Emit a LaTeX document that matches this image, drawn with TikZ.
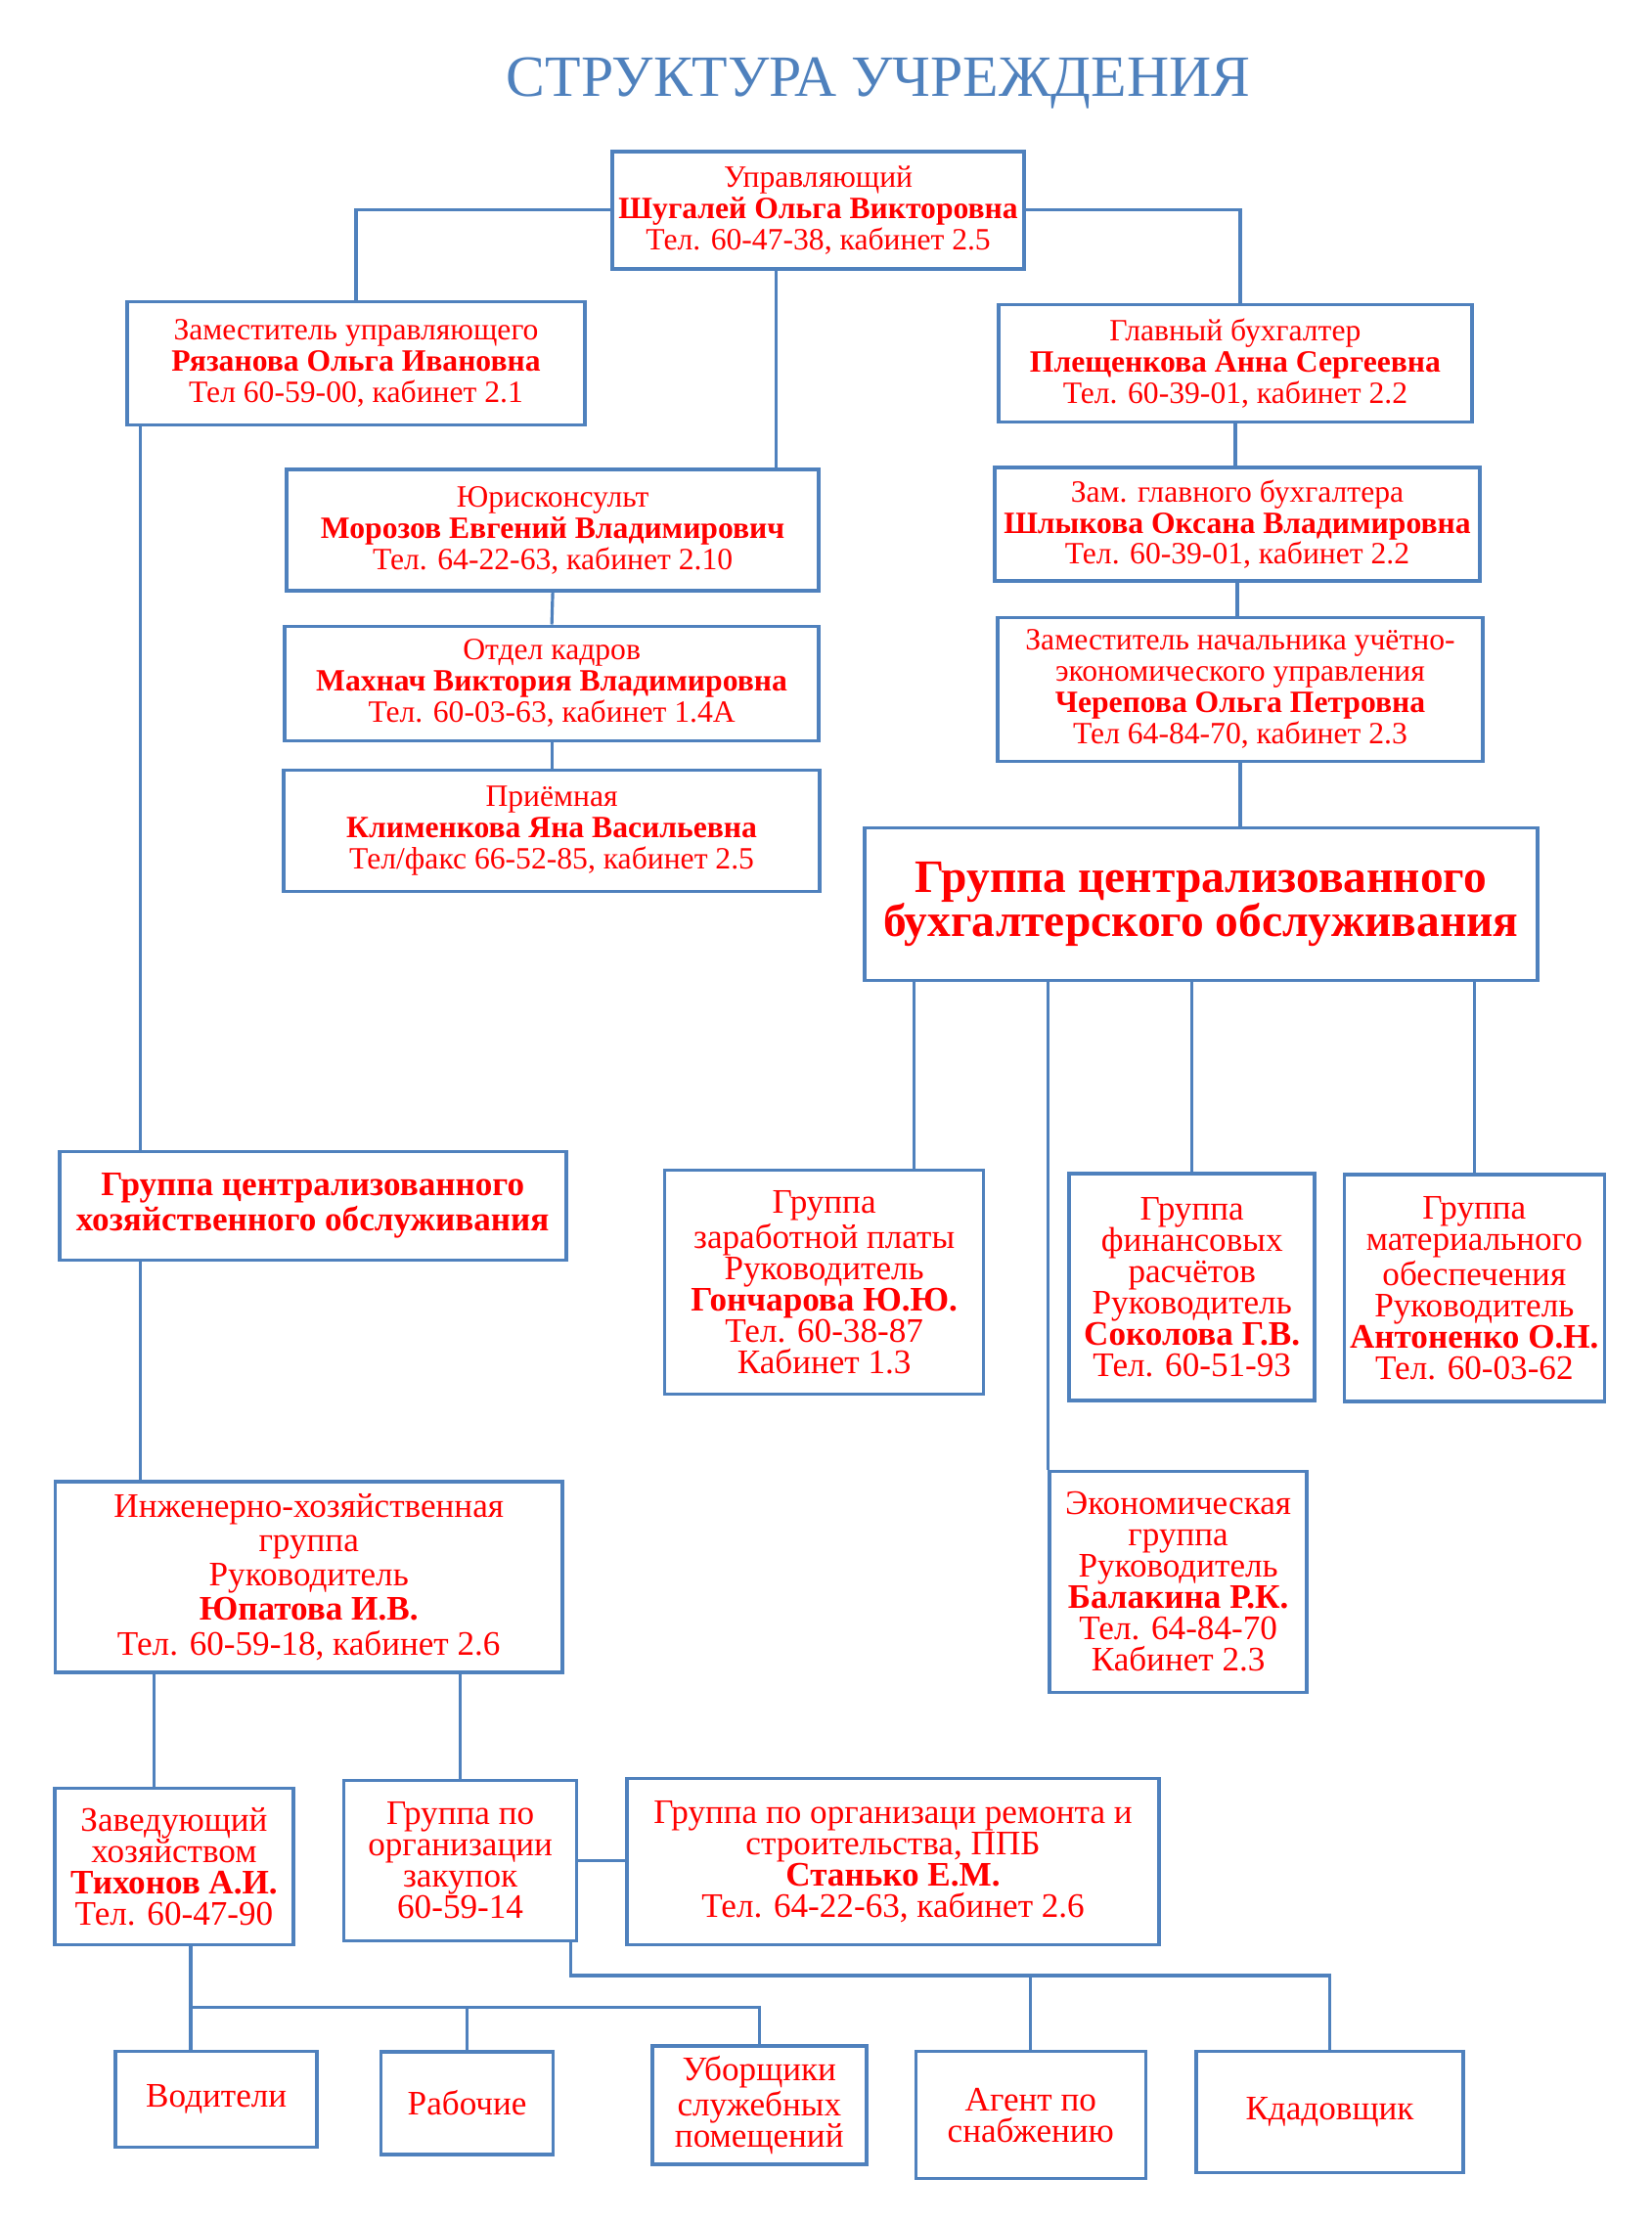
\documentclass[tikz,border=0pt]{standalone}
\usepackage{fontspec}
\setmainfont{Liberation Serif}
\usetikzlibrary{calc}
\definecolor{lineblue}{RGB}{79,129,189}

\begin{document}
\begin{tikzpicture}[x=0.01005cm,y=-0.01004cm,
	orgbox/.style={draw=lineblue,line width=1pt,text=red,align=center,inner sep=0pt,font=\fontsize{9}{9.1}\selectfont},
	midfont/.style={font=\fontsize{10}{9.1}\selectfont},
	link/.style={draw=lineblue,line width=0.9pt}]
	\useasboundingbox (0,0) rectangle (1679.6,2263);
	\node[text=lineblue,font=\fontsize{17}{17}\selectfont,anchor=base] (title) at (893,98) {СТРУКТУРА УЧРЕЖДЕНИЯ};

	\node[orgbox,minimum width=4.21cm,minimum height=1.20cm] (boss) at (832,214) {Управляющий\\\textbf{Шугалей Ольга Викторовна}\\Тел. 60-47-38, кабинет 2.5};
	\node[orgbox,minimum width=4.68cm,minimum height=1.26cm] (dep) at (362,370) {Заместитель управляющего\\\textbf{Рязанова Ольга Ивановна}\\Тел 60-59-00, кабинет 2.1};
	\node[orgbox,minimum width=4.84cm,minimum height=1.20cm] (chief) at (1256,370) {Главный бухгалтер\\\textbf{Плещенкова Анна Сергеевна}\\Тел. 60-39-01, кабинет 2.2};
	\node[orgbox,minimum width=5.44cm,minimum height=1.24cm] (lawyer) at (562,540) {Юрисконсульт\\\textbf{Морозов Евгений Владимирович}\\Тел. 64-22-63, кабинет 2.10};
	\node[orgbox,minimum width=4.96cm,minimum height=1.16cm] (depacc) at (1258,534) {Зам. главного бухгалтера\\\textbf{Шлыкова Оксана Владимировна}\\Тел. 60-39-01, кабинет 2.2};
	\node[orgbox,minimum width=5.46cm,minimum height=1.17cm] (hr) at (561,696) {Отдел кадров\\\textbf{Махнач Виктория Владимировна}\\Тел. 60-03-63, кабинет 1.4А};
	\node[orgbox,minimum width=4.96cm,minimum height=1.47cm] (cherep) at (1261,702) {Заместитель начальника учётно-\\экономического управления\\\textbf{Черепова Ольга Петровна}\\Тел 64-84-70, кабинет 2.3};
	\node[orgbox,minimum width=5.48cm,minimum height=1.24cm] (recep) at (561,846) {Приёмная\\\textbf{Клименкова Яна Васильевна}\\Тел/факс 66-52-85, кабинет 2.5};
	\node[orgbox,minimum width=6.88cm,minimum height=1.56cm,font=\fontsize{13.5}{13}\selectfont\bfseries] (gcbo) at (1221,921) {Группа централизованного\\бухгалтерского обслуживания};
	\node[orgbox,minimum width=5.18cm,minimum height=1.11cm,font=\fontsize{10}{9.3}\selectfont\bfseries] (gcho) at (318,1228) {Группа централизованного\\хозяйственного обслуживания};
	\node[orgbox,midfont,minimum width=3.26cm,minimum height=2.29cm] (salary) at (838,1306) {Группа\\заработной платы\\Руководитель\\\textbf{Гончарова Ю.Ю.}\\Тел. 60-38-87\\Кабинет 1.3};
	\node[orgbox,midfont,minimum width=2.51cm,minimum height=2.32cm] (fin) at (1212,1311) {Группа\\финансовых\\расчётов\\Руководитель\\\textbf{Соколова Г.В.}\\Тел. 60-51-93};
	\node[orgbox,midfont,minimum width=2.66cm,minimum height=2.32cm] (mat) at (1499,1312) {Группа\\материального\\обеспечения\\Руководитель\\\textbf{Антоненко О.Н.}\\Тел. 60-03-62};
	\node[orgbox,midfont,minimum width=2.63cm,minimum height=2.26cm] (econ) at (1198,1611) {Экономическая\\группа\\Руководитель\\\textbf{Балакина Р.К.}\\Тел. 64-84-70\\Кабинет 2.3};
	\node[orgbox,font=\fontsize{10}{10}\selectfont,minimum width=5.18cm,minimum height=1.95cm] (eng) at (314,1606) {Инженерно-хозяйственная\\группа\\Руководитель\\\textbf{Юпатова И.В.}\\Тел. 60-59-18, кабинет 2.6};
	\node[orgbox,midfont,minimum width=2.44cm,minimum height=1.60cm] (zav) at (177,1901) {Заведующий\\хозяйством\\\textbf{Тихонов А.И.}\\Тел. 60-47-90};
	\node[orgbox,midfont,minimum width=2.38cm,minimum height=1.64cm] (zak) at (468,1895) {Группа по\\организации\\закупок\\60-59-14};
	\node[orgbox,midfont,minimum width=5.44cm,minimum height=1.70cm] (rem) at (908,1896) {Группа по организаци ремонта и\\строительства, ППБ\\\textbf{Станько Е.М.}\\Тел. 64-22-63, кабинет 2.6};
	\node[orgbox,midfont,minimum width=2.06cm,minimum height=0.98cm] (vod) at (220,2138) {Водители};
	\node[orgbox,midfont,minimum width=1.76cm,minimum height=1.05cm] (rab) at (475,2142) {Рабочие};
	\node[orgbox,midfont,minimum width=2.19cm,minimum height=1.21cm] (ub) at (772,2144) {Уборщики\\служебных\\помещений};
	\node[orgbox,midfont,minimum width=2.35cm,minimum height=1.30cm] (agent) at (1048,2154) {Агент по\\снабжению};
	\node[orgbox,midfont,minimum width=2.73cm,minimum height=1.24cm] (kdad) at (1352,2151) {Кдадовщик};

	\coordinate (busL) at (0,2044);
	\coordinate (busR) at (0,2012);

	\draw[link] (boss.west) -| (dep.north);
	\draw[link] (boss.east) -| ($(chief.north)+(5,0)$);
	\draw[link] ($(boss.south)+(-43,0)$) coordinate (b1) -- (b1 |- lawyer.north);
	\draw[link] (lawyer.south) -- (hr.north);
	\draw[link] (hr.south) -- (recep.north);
	\draw[link] (chief.south) -- (chief.south |- depacc.north);
	\draw[link] (depacc.south) -- (depacc.south |- cherep.north);
	\draw[link] (cherep.south) -- (cherep.south |- gcbo.north);
	\draw[link] ($(dep.south west)+(15,0)$) coordinate (d1) -- (d1 |- gcho.north);
	\draw[link] (gcho.south -| d1) -- (eng.north -| d1);
	\draw[link] ($(gcbo.south west)+(52,0)$) coordinate (g1) -- (g1 |- salary.north);
	\draw[link] (gcbo.south -| econ.north west) -- (econ.north west);
	\draw[link] (gcbo.south -| fin.north) -- (fin.north);
	\draw[link] (gcbo.south -| mat.north) -- (mat.north);
	\draw[link] ($(eng.south west)+(102,0)$) coordinate (e1) -- (e1 |- zav.north);
	\draw[link] (eng.south -| zak.north) -- (zak.north);
	\draw[link] (zak.east) -- (zak.east -| rem.west);
	\draw[link] ($(zav.south west)+(140,0)$) coordinate (z1) -- (z1 |- vod.north);
	\draw[link] (z1 |- busL) -| (ub.north);
	\draw[link] (rab.north |- busL) -- (rab.north);
	\draw[link] ($(zak.south east)+(-8,0)$) coordinate (k1) -- (k1 |- busR) -| (kdad.north);
	\draw[link] (agent.north |- busR) -- (agent.north);
\end{tikzpicture}
\end{document}
